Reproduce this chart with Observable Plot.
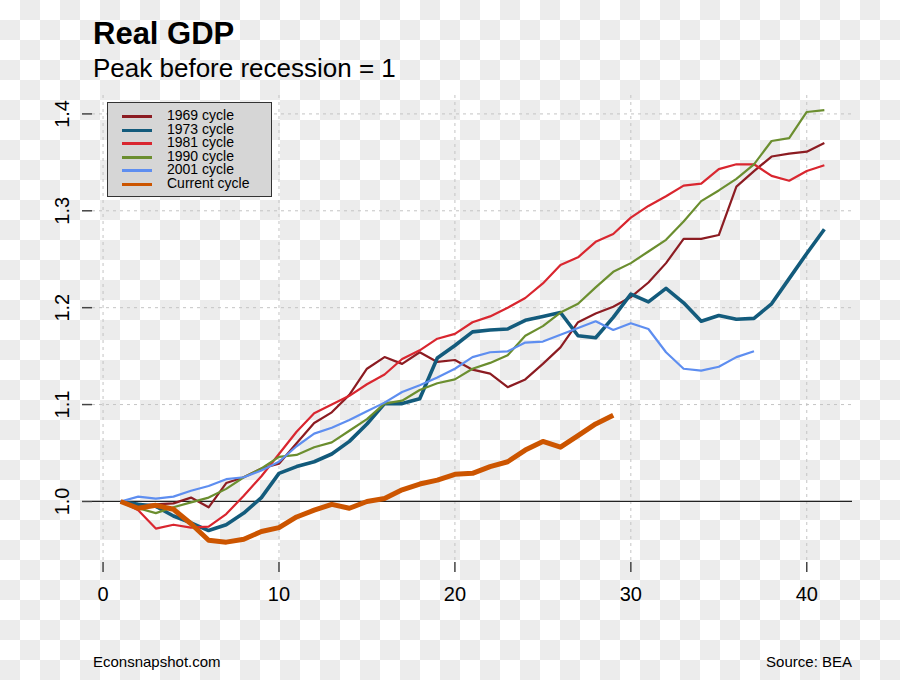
<!DOCTYPE html>
<html>
<head>
<meta charset="utf-8">
<script src="https://cdn.jsdelivr.net/npm/d3@7"></script>
<script src="https://cdn.jsdelivr.net/npm/@observablehq/plot@0.6"></script>
<style>
  html, body { margin: 0; padding: 0; }
  body {
    width: 900px; height: 680px;
    background-color: #ffffff;
    background-image: repeating-conic-gradient(#ececec 0% 25%, #ffffff 0% 50%);
    background-size: 40px 40px;
    background-position: 0 0;
    font-family: "Liberation Sans", Arial, sans-serif;
  }
  #wrap { position: relative; width: 900px; height: 680px; overflow: hidden; }
  #title { position: absolute; left: 93px; top: 18px; font-size: 31px; line-height: 31px; font-weight: bold; color: #000; white-space: nowrap; }
  #subtitle { position: absolute; left: 93px; top: 55px; font-size: 26px; line-height: 26px; color: #000; white-space: nowrap; }
  #chart { position: absolute; left: 0; top: 90px; }
  #legend { position: absolute; left: 107px; top: 102px; width: 165px; height: 95px; background: #d6d6d6; border: 1px solid #333; box-sizing: border-box; padding-top: 6px; }
  .lrow { position: relative; height: 13.6px; }
  .lsw { position: absolute; left: 14px; top: 6px; width: 30px; height: 3px; }
  .ltx { position: absolute; left: 59px; top: 0px; font-size: 14px; line-height: 13.6px; color: #000; white-space: nowrap; }
  .foot { position: absolute; top: 654px; font-size: 15px; line-height: 15px; color: #000; white-space: nowrap; }
</style>
</head>
<body>
<div id="wrap">
  <div id="title">Real GDP</div>
  <div id="subtitle">Peak before recession = 1</div>
  <div id="chart"></div>
  <div id="legend"></div>
  <div class="foot" style="left:93px;">Econsnapshot.com</div>
  <div class="foot" style="right:48px;">Source: BEA</div>
</div>
<script>
// ---- data (quarters after peak start at 1) ----
const seriesNames = ["1969 cycle", "1973 cycle", "1981 cycle", "1990 cycle", "2001 cycle", "Current cycle"];
const seriesColors = ["#8c1c22", "#135b7c", "#d9262f", "#6b8e2f", "#5e8ef0", "#cc5500"];
const seriesWidths = [2.2, 3.6, 2.2, 2.2, 2.2, 5];

const cycle1969 = [1.000, 0.996, 0.997, 0.998, 1.004, 0.994, 1.019, 1.025, 1.034, 1.039,
  1.060, 1.081, 1.092, 1.110, 1.137, 1.149, 1.142, 1.154, 1.144, 1.146,
  1.136, 1.132, 1.118, 1.126, 1.142, 1.159, 1.185, 1.194, 1.201, 1.211,
  1.226, 1.246, 1.271, 1.271, 1.275, 1.325, 1.341, 1.356, 1.359, 1.361, 1.370];
const cycle1973 = [1.000, 0.997, 0.995, 0.985, 0.978, 0.970, 0.976, 0.988, 1.004, 1.029,
  1.036, 1.041, 1.049, 1.062, 1.080, 1.101, 1.101, 1.106, 1.148, 1.161,
  1.175, 1.177, 1.178, 1.187, 1.191, 1.195, 1.171, 1.169, 1.190, 1.214,
  1.206, 1.220, 1.205, 1.186, 1.192, 1.188, 1.189, 1.204, 1.230, 1.256, 1.281];
const cycle1981 = [1.000, 0.991, 0.972, 0.976, 0.973, 0.974, 0.987, 1.006, 1.026, 1.049,
  1.072, 1.091, 1.100, 1.109, 1.121, 1.131, 1.147, 1.156, 1.168, 1.173,
  1.185, 1.191, 1.200, 1.210, 1.225, 1.244, 1.252, 1.268, 1.276, 1.293,
  1.305, 1.315, 1.326, 1.328, 1.343, 1.348, 1.348, 1.336, 1.331, 1.341, 1.347];
const cycle1990 = [1.000, 0.993, 0.988, 0.994, 0.999, 1.004, 1.013, 1.025, 1.034, 1.046,
  1.048, 1.056, 1.061, 1.073, 1.085, 1.101, 1.104, 1.115, 1.122, 1.126,
  1.137, 1.143, 1.151, 1.171, 1.181, 1.195, 1.204, 1.221, 1.237, 1.246,
  1.258, 1.270, 1.289, 1.310, 1.321, 1.333, 1.348, 1.372, 1.375, 1.402, 1.404];
const cycle2001 = [1.000, 1.005, 1.003, 1.005, 1.011, 1.016, 1.023, 1.025, 1.032, 1.041,
  1.057, 1.070, 1.076, 1.084, 1.093, 1.102, 1.113, 1.120, 1.128, 1.137,
  1.149, 1.154, 1.155, 1.164, 1.165, 1.172, 1.179, 1.186, 1.177, 1.184,
  1.178, 1.154, 1.137, 1.135, 1.139, 1.149, 1.155];
const cycleCurrent = [1.000, 0.993, 0.996, 0.992, 0.977, 0.960, 0.958, 0.961, 0.969, 0.973,
  0.984, 0.991, 0.997, 0.993, 1.000, 1.003, 1.012, 1.018, 1.022, 1.028,
  1.029, 1.036, 1.041, 1.053, 1.062, 1.056, 1.068, 1.080, 1.089];

const xTicks = [0, 10, 20, 30, 40];
const yTicks = [1.0, 1.1, 1.2, 1.3, 1.4];
const yGrid = [1.1, 1.2, 1.3, 1.4];
const baseline = [1.0];

const seriesValues = [cycle1969, cycle1973, cycle1981, cycle1990, cycle2001, cycleCurrent];
const rows = seriesNames.map((name, i) => seriesValues[i].map((v, j) => ({series: name, quarter: j + 1, value: v})));

const lineMarks = rows.map((data, i) => Plot.line(data, {
  x: "quarter", y: "value", stroke: seriesColors[i], strokeWidth: seriesWidths[i],
  strokeLinejoin: "round", strokeLinecap: "butt"
}));

const chart = Plot.plot({
  width: 900,
  height: 550,
  marginTop: 5,
  marginBottom: 78,
  marginLeft: 92,
  marginRight: 48,
  style: {fontFamily: "Liberation Sans, Arial, sans-serif", background: "transparent", color: "#000"},
  x: {domain: [-0.6, 42.6]},
  y: {domain: [0.937, 1.419]},
  marks: [
    Plot.ruleX(xTicks, {stroke: "#c4c4c4", strokeDasharray: "3,4", strokeWidth: 1}),
    Plot.ruleY(yGrid, {stroke: "#c4c4c4", strokeDasharray: "3,4", strokeWidth: 1}),
    Plot.ruleY(baseline, {stroke: "#222", strokeWidth: 1.2}),
    ...lineMarks,
    Plot.axisX({ticks: xTicks, tickSize: 10, tickPadding: 14, fontSize: 20, label: null, stroke: "#444", strokeWidth: 1.5, tickFormat: d3.format("d")}),
    Plot.axisY({ticks: yTicks, tickSize: 10, tickPadding: 14, tickRotate: -90, fontSize: 20, label: null, stroke: "#444", strokeWidth: 1.5, tickFormat: d3.format(".1f")})
  ]
});
document.getElementById("chart").appendChild(chart);

// legend built from the series arrays
const legend = document.getElementById("legend");
seriesNames.forEach((name, i) => {
  const row = document.createElement("div");
  row.className = "lrow";
  const sw = document.createElement("div");
  sw.className = "lsw";
  sw.style.background = seriesColors[i];
  const tx = document.createElement("div");
  tx.className = "ltx";
  tx.textContent = name;
  row.appendChild(sw);
  row.appendChild(tx);
  legend.appendChild(row);
});
</script>
</body>
</html>
